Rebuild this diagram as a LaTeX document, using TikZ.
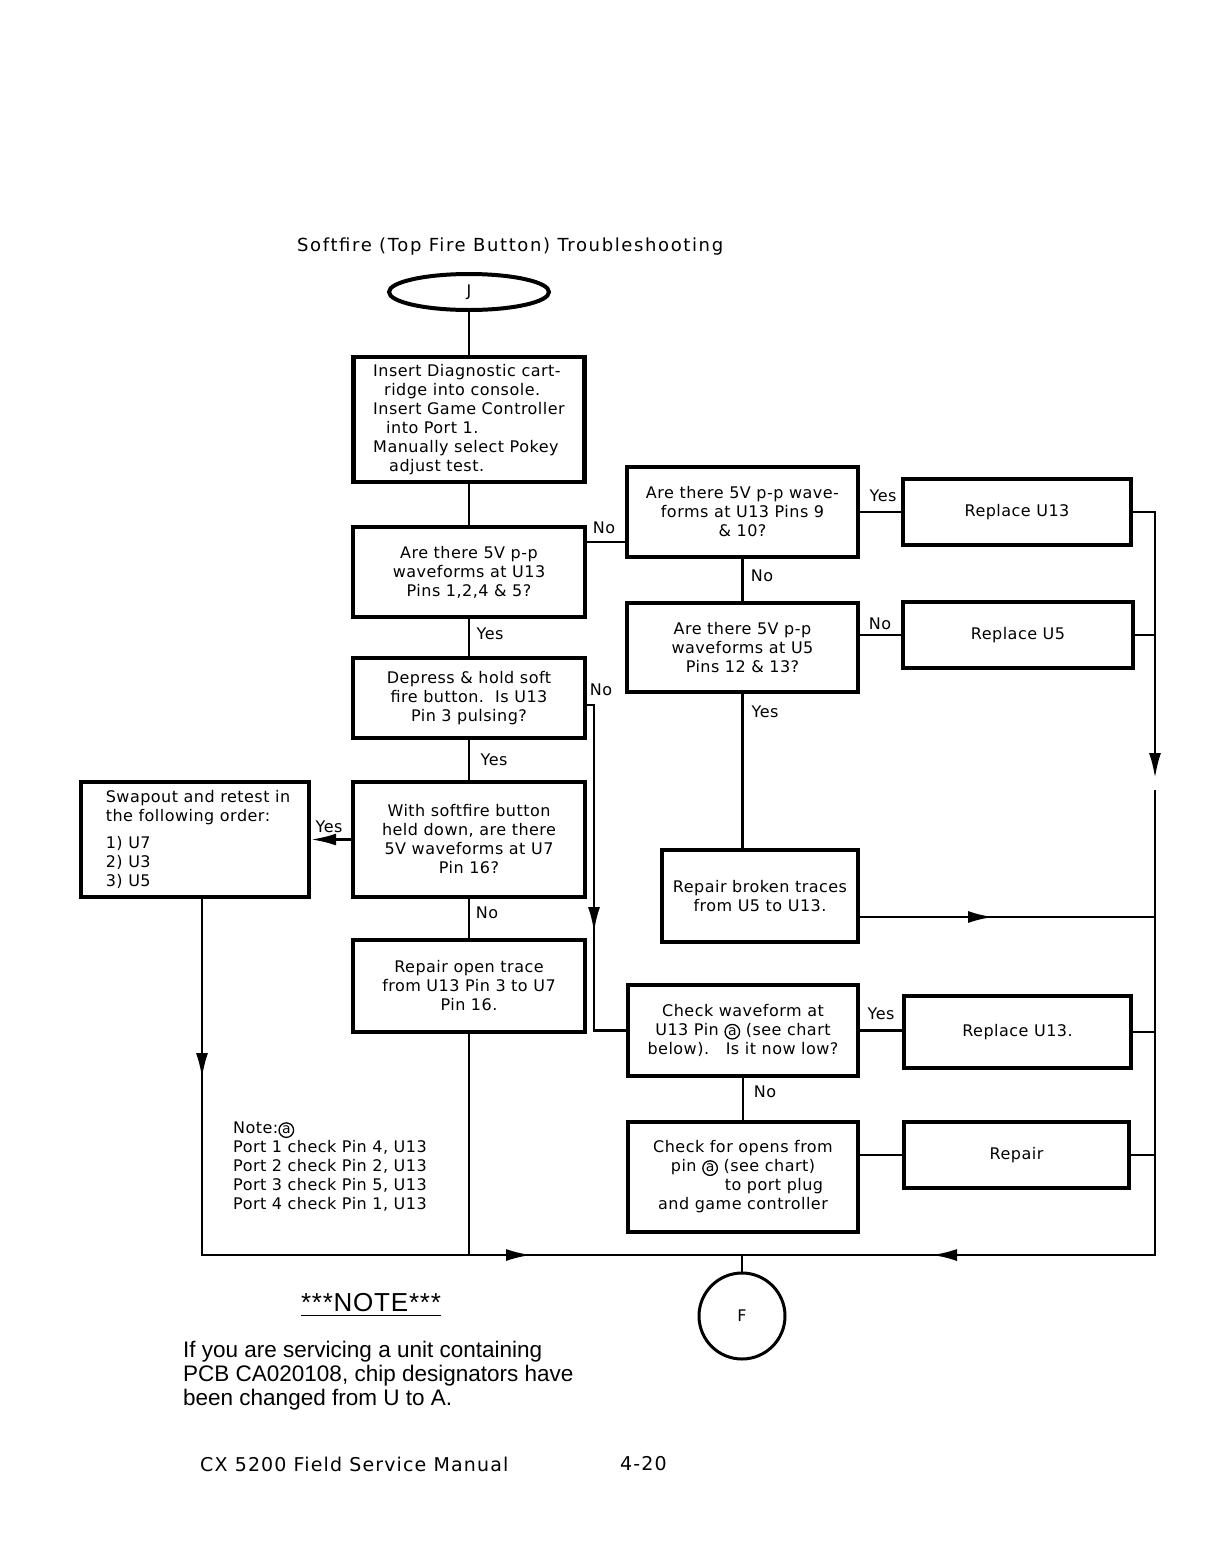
\documentclass[tikz,border=0pt]{standalone}
\usepackage{fontspec}
\setmainfont{DejaVu Sans}[LetterSpace=3]
\newfontfamily\titlefont{DejaVu Sans}[LetterSpace=9]
\newfontfamily\footfont{DejaVu Sans}[LetterSpace=6]
\newfontfamily\parafont{Liberation Sans}
\newfontfamily\notefont{Liberation Sans}[LetterSpace=3]
\usetikzlibrary{arrows.meta,shapes.geometric}
\newcommand\circA{\tikz[baseline=(ca.base)]\node[draw,circle,anchor=base,minimum size=0pt,minimum width=0pt,minimum height=0pt,inner sep=1pt,outer sep=0pt,line width=1.3pt,font=\fontsize{14}{14}\selectfont](ca){a};}
\tikzset{
  box/.style={draw, rectangle, line width=4.2pt, inner sep=2pt, align=center, font=\fontsize{16}{19}\selectfont},
  conn/.style={line width=2.5pt},
  arr/.style={-{Latex[length=25pt,width=12pt]}},
  lab/.style={font=\fontsize{16}{18}\selectfont, inner sep=0pt},
  txt/.style={inner sep=0pt}
}
\begin{document}
\begin{tikzpicture}[x=1pt,y=-1pt]
\useasboundingbox (0,0) rectangle (1218,1564);
\fill[white] (0,0) rectangle (1218,1564);

% title
\node[txt, anchor=west, font=\titlefont\fontsize{18}{20}\selectfont] (title) at (297,247) {Softfire (Top Fire Button) Troubleshooting};

% terminals
\node[draw, ellipse, line width=4pt, minimum width=160pt, minimum height=36pt, inner sep=0pt, font=\fontsize{16}{18}\selectfont] (J) at (469,292) {J};
\node[draw, circle, line width=3pt, minimum size=86pt, inner sep=0pt, font=\fontsize{16}{18}\selectfont] (F) at (742,1316) {F};

% boxes
\node[box, align=left, minimum width=231pt, minimum height=125pt] (b1) at (469,419.5)
  {Insert Diagnostic cart-\\\hspace*{11pt}ridge into console.\\Insert Game Controller\\\hspace*{13pt}into Port 1.\\Manually select Pokey\\\hspace*{16pt}adjust test.};
\node[box, minimum width=232pt, minimum height=90pt] (b2) at (469,572)
  {Are there 5V p-p\\waveforms at U13\\Pins 1,2,4 \& 5?};
\node[box, minimum width=231pt, minimum height=90pt] (b3) at (742.5,512)
  {Are there 5V p-p wave-\\forms at U13 Pins 9\\\& 10?};
\node[box, minimum width=228pt, minimum height=66pt] (R13) at (1017,512) {Replace U13};
\node[box, minimum width=231pt, minimum height=89pt] (b4) at (742.5,647.5)
  {Are there 5V p-p\\waveforms at U5\\Pins 12 \& 13?};
\node[box, minimum width=230pt, minimum height=66pt] (R5) at (1018,635) {Replace U5};
\node[box, minimum width=196pt, minimum height=92pt] (rb) at (760,896)
  {Repair broken traces\\from U5 to U13.};
\node[box, minimum width=232pt, minimum height=80pt] (b5) at (469,698)
  {Depress \& hold soft\\fire button.\ \ Is U13\\Pin 3 pulsing?};
\node[box, minimum width=232pt, minimum height=115pt] (b6) at (469,839.5)
  {With softfire button\\held down, are there\\5V waveforms at U7\\Pin 16?};
\node[box, align=left, minimum width=228pt, minimum height=115pt] (sw) at (195,839.5)
  {\hspace*{6pt}Swapout and retest in\\\hspace*{6pt}the following order:\\[8pt]\hspace*{6pt}1) U7\\\hspace*{6pt}2) U3\\\hspace*{6pt}3) U5};
\node[box, minimum width=232pt, minimum height=92pt] (b7) at (469,986)
  {Repair open trace\\from U13 Pin 3 to U7\\Pin 16.};
\node[box, minimum width=230pt, minimum height=91pt] (cw) at (743,1030.5)
  {Check waveform at\\U13 Pin \circA{} (see chart\\below).\ \ \ Is it now low?};
\node[box, minimum width=227pt, minimum height=72pt] (RU13b) at (1017.5,1032) {Replace U13.};
\node[box, minimum width=230pt, minimum height=110pt] (co) at (743,1177)
  {Check for opens from\\pin \circA{} (see chart)\\\hspace*{62pt}to port plug\\and game controller};
\node[box, minimum width=225pt, minimum height=66pt] (rep) at (1016.5,1155) {Repair};

% helper coordinates
\coordinate (y542) at (0,542);
\coordinate (y705) at (0,705);
\coordinate (rbarr) at (993,917);
\coordinate (rarr) at (1155,778);
\coordinate (rlow) at (1155,790);
\coordinate (varr) at (594,932);
\coordinate (swb) at (202,899);
\coordinate (larr) at (202,1078);
\coordinate (ba1) at (531,1255);
\coordinate (ba2) at (932,1255);

% connectors
\draw[conn] (J) -- (b1);
\draw[conn] (b1) -- (b2);
\draw[conn] (b2.east |- y542) -- (b3.west |- y542);
\draw[conn] (b3) -- (R13);
\draw[conn] (b3) -- (b4);
\draw[conn] (b4.east |- R5.west) -- (R5.west);
\draw[conn] (b4.south) -- (b4.south |- rb.north);
\draw[conn] (rb.east |- rbarr) -- (rbarr -| rarr);
\draw[conn, arr] (rb.east |- rbarr) -- (rbarr);
\draw[conn, arr] (R13.east) -| (rarr);
\draw[conn] (R5.east) -- (R5.east -| rarr);
\draw[conn] (rlow) |- (ba1);
\draw[conn, arr] (rlow) |- (ba2);
\draw[conn] (b2) -- (b5);
\draw[conn] (b5.east |- y705) -| (varr) |- (cw.west);
\draw[conn, arr] (b5.east |- y705) -| (varr);
\draw[conn] (b5) -- (b6);
\draw[conn, arr] (b6) -- (sw);
\draw[conn] (b6) -- (b7);
\draw[conn] (b7.south) -- (b7.south |- ba1);
\draw[conn] (swb) |- (ba1);
\draw[conn, arr] (swb) -- (larr);
\draw[conn, arr] (larr) |- (ba1);
\draw[conn] (F) -- (F |- ba1);
\draw[conn] (cw.east) -- (cw.east -| RU13b.west);
\draw[conn] (RU13b.east) -- (RU13b.east -| rarr);
\draw[conn] (cw) -- (co);
\draw[conn] (rep.west -| co.east) -- (rep.west);
\draw[conn] (rep.east) -- (rep.east -| rarr);

% labels
\node[lab] (l1) at (604,528) {No};
\node[lab] (l2) at (883,496) {Yes};
\node[lab] (l3) at (762,576) {No};
\node[lab] (l4) at (880,624) {No};
\node[lab] (l5) at (765,712) {Yes};
\node[lab] (l6) at (490,634) {Yes};
\node[lab] (l7) at (601,690) {No};
\node[lab] (l8) at (494,760) {Yes};
\node[lab] (l9) at (329,827) {Yes};
\node[lab] (l10) at (487,913) {No};
\node[lab] (l11) at (881,1014) {Yes};
\node[lab] (l12) at (765,1092) {No};

% notes
\node[txt, anchor=north west, align=left, font=\fontsize{16}{19}\selectfont] (note) at (233,1122)
  {Note:\circA\\Port 1 check Pin 4, U13\\Port 2 check Pin 2, U13\\Port 3 check Pin 5, U13\\Port 4 check Pin 1, U13};
\node[inner xsep=0pt, inner ysep=3pt, font=\notefont\fontsize{26}{28}\selectfont] (nt) at (371,1303) {***NOTE***};
\draw[line width=1.5pt] (nt.south west) -- (nt.south east);
\node[txt, anchor=north west, align=left, font=\parafont\fontsize{22.5}{24}\selectfont] (para) at (183,1341)
  {If you are servicing a unit containing\\PCB CA020108, chip designators have\\been changed from U to A.};
\node[txt, anchor=west, font=\footfont\fontsize{19}{20}\selectfont] (foot) at (200,1464) {CX 5200 Field Service Manual};
\node[txt, anchor=west, font=\footfont\fontsize{19}{20}\selectfont] (page) at (620,1464) {4-20};
\end{tikzpicture}
\end{document}
